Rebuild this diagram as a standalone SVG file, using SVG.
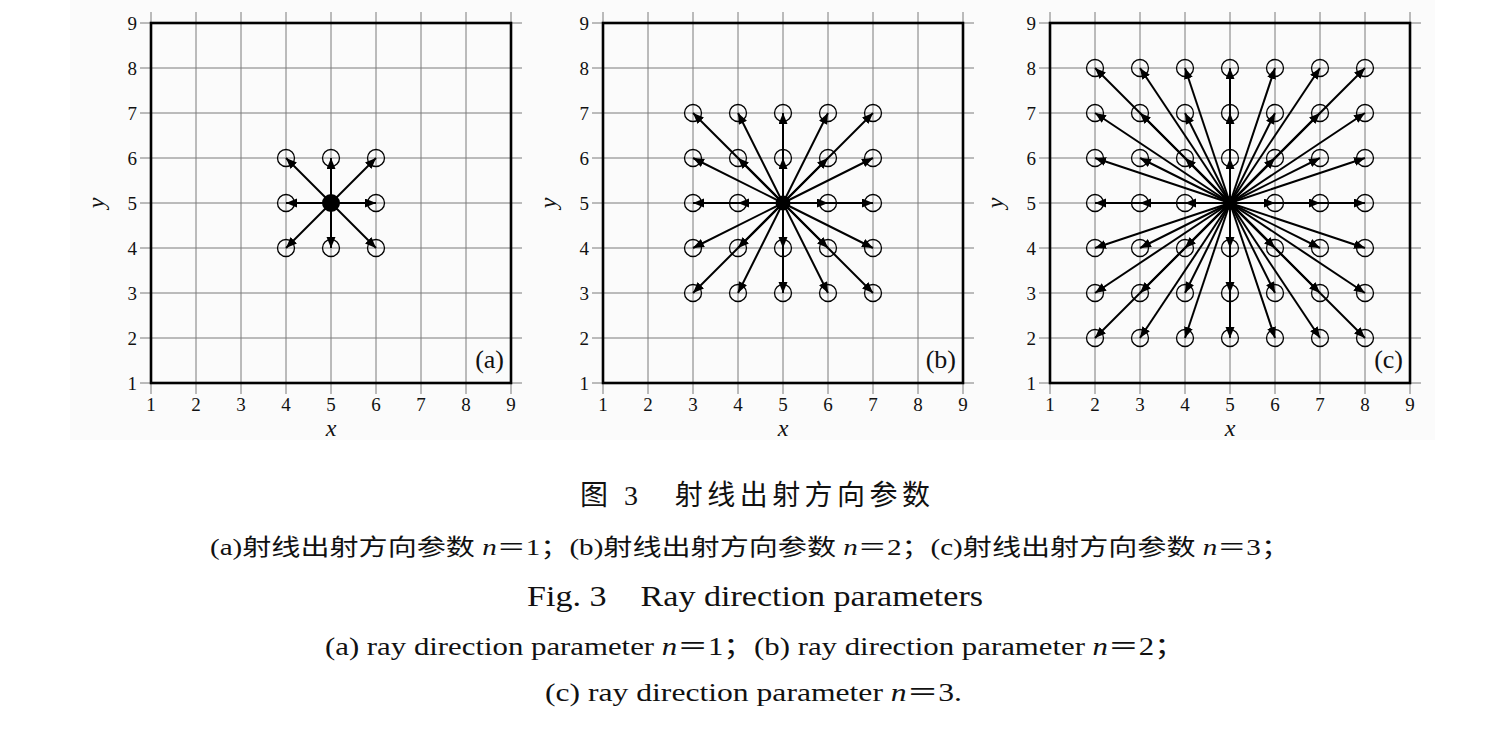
<svg xmlns="http://www.w3.org/2000/svg" xmlns:xlink="http://www.w3.org/1999/xlink" width="1508" height="734" viewBox="0 0 1508 734">
<style>
.pl{font-family:"Liberation Serif","Times New Roman",serif;font-size:26px;fill:#111}
.tk{font-family:"Liberation Serif","Times New Roman",serif;font-size:19px;fill:#111}
.tx{text-anchor:middle}
.ty{text-anchor:end}
.ax{font-family:"Liberation Serif","Times New Roman",serif;font-size:24px;font-style:italic;fill:#111;text-anchor:middle}
.ray{stroke:#000;stroke-width:2;marker-end:url(#ah)}
.pt{fill:none;stroke:#000;stroke-width:1.3}
.ctr{fill:#000}
.cap{font-family:"Liberation Serif","Noto Sans CJK SC",serif;fill:#111}
</style>
<defs>
<marker id="ah" markerUnits="userSpaceOnUse" markerWidth="13" markerHeight="10" refX="11" refY="4.5" orient="auto"><path d="M0,0 L11,4.5 L0,9 z" fill="#000"/></marker>
<g id="axes">
<path fill="none" stroke="#7a7a7a" stroke-width="1" d="M0,-11V371M45,-11V371M90,-11V371M135,-11V371M180,-11V371M225,-11V371M270,-11V371M315,-11V371M360,-11V371M-11,0H371M-11,45H371M-11,90H371M-11,135H371M-11,180H371M-11,225H371M-11,270H371M-11,315H371M-11,360H371"/>
<rect x="0" y="0" width="360" height="360" fill="none" stroke="#000" stroke-width="2.6"/>
</g>
</defs>
<rect x="70" y="0" width="1365" height="440" fill="#fbfbfb"/>

<g id="panel-a" transform="translate(151,23)">
<use xlink:href="#axes"/>
<g class="tk">
<text class="tx" x="0" y="388">1</text><text class="tx" x="45" y="388">2</text><text class="tx" x="90" y="388">3</text><text class="tx" x="135" y="388">4</text><text class="tx" x="180" y="388">5</text><text class="tx" x="225" y="388">6</text><text class="tx" x="270" y="388">7</text><text class="tx" x="315" y="388">8</text><text class="tx" x="360" y="388">9</text>
<text class="ty" x="-14" y="367">1</text><text class="ty" x="-14" y="322">2</text><text class="ty" x="-14" y="277">3</text><text class="ty" x="-14" y="232">4</text><text class="ty" x="-14" y="187">5</text><text class="ty" x="-14" y="142">6</text><text class="ty" x="-14" y="97">7</text><text class="ty" x="-14" y="52">8</text><text class="ty" x="-14" y="7">9</text>
</g>
<text class="ax" x="180" y="413">x</text>
<text class="ax" transform="translate(-47,180) rotate(-90)">y</text>
<text class="pl" x="353" y="345" text-anchor="end">(a)</text>
<g id="points-a">
<circle class="pt" cx="135" cy="135" r="8.5"/><circle class="pt" cx="180" cy="135" r="8.5"/><circle class="pt" cx="225" cy="135" r="8.5"/>
<circle class="pt" cx="135" cy="180" r="8.5"/><circle class="pt" cx="225" cy="180" r="8.5"/>
<circle class="pt" cx="135" cy="225" r="8.5"/><circle class="pt" cx="180" cy="225" r="8.5"/><circle class="pt" cx="225" cy="225" r="8.5"/>
</g>
<g id="rays-a">
<line class="ray" x1="180" y1="180" x2="135" y2="135"/><line class="ray" x1="180" y1="180" x2="180" y2="135"/><line class="ray" x1="180" y1="180" x2="225" y2="135"/>
<line class="ray" x1="180" y1="180" x2="135" y2="180"/><line class="ray" x1="180" y1="180" x2="225" y2="180"/>
<line class="ray" x1="180" y1="180" x2="135" y2="225"/><line class="ray" x1="180" y1="180" x2="180" y2="225"/><line class="ray" x1="180" y1="180" x2="225" y2="225"/>
</g>
<circle id="center-a" class="ctr" cx="180" cy="180" r="9"/>
</g>

<g id="panel-b" transform="translate(603,23)">
<use xlink:href="#axes"/>
<g class="tk">
<text class="tx" x="0" y="388">1</text><text class="tx" x="45" y="388">2</text><text class="tx" x="90" y="388">3</text><text class="tx" x="135" y="388">4</text><text class="tx" x="180" y="388">5</text><text class="tx" x="225" y="388">6</text><text class="tx" x="270" y="388">7</text><text class="tx" x="315" y="388">8</text><text class="tx" x="360" y="388">9</text>
<text class="ty" x="-14" y="367">1</text><text class="ty" x="-14" y="322">2</text><text class="ty" x="-14" y="277">3</text><text class="ty" x="-14" y="232">4</text><text class="ty" x="-14" y="187">5</text><text class="ty" x="-14" y="142">6</text><text class="ty" x="-14" y="97">7</text><text class="ty" x="-14" y="52">8</text><text class="ty" x="-14" y="7">9</text>
</g>
<text class="ax" x="180" y="413">x</text>
<text class="ax" transform="translate(-47,180) rotate(-90)">y</text>
<text class="pl" x="353" y="345" text-anchor="end">(b)</text>
<g id="points-b">
<circle class="pt" cx="90" cy="90" r="8.5"/><circle class="pt" cx="135" cy="90" r="8.5"/><circle class="pt" cx="180" cy="90" r="8.5"/><circle class="pt" cx="225" cy="90" r="8.5"/><circle class="pt" cx="270" cy="90" r="8.5"/>
<circle class="pt" cx="90" cy="135" r="8.5"/><circle class="pt" cx="135" cy="135" r="8.5"/><circle class="pt" cx="180" cy="135" r="8.5"/><circle class="pt" cx="225" cy="135" r="8.5"/><circle class="pt" cx="270" cy="135" r="8.5"/>
<circle class="pt" cx="90" cy="180" r="8.5"/><circle class="pt" cx="135" cy="180" r="8.5"/><circle class="pt" cx="225" cy="180" r="8.5"/><circle class="pt" cx="270" cy="180" r="8.5"/>
<circle class="pt" cx="90" cy="225" r="8.5"/><circle class="pt" cx="135" cy="225" r="8.5"/><circle class="pt" cx="180" cy="225" r="8.5"/><circle class="pt" cx="225" cy="225" r="8.5"/><circle class="pt" cx="270" cy="225" r="8.5"/>
<circle class="pt" cx="90" cy="270" r="8.5"/><circle class="pt" cx="135" cy="270" r="8.5"/><circle class="pt" cx="180" cy="270" r="8.5"/><circle class="pt" cx="225" cy="270" r="8.5"/><circle class="pt" cx="270" cy="270" r="8.5"/>
</g>
<g id="rays-b">
<line class="ray" x1="180" y1="180" x2="90" y2="90"/><line class="ray" x1="180" y1="180" x2="135" y2="90"/><line class="ray" x1="180" y1="180" x2="180" y2="90"/><line class="ray" x1="180" y1="180" x2="225" y2="90"/><line class="ray" x1="180" y1="180" x2="270" y2="90"/>
<line class="ray" x1="180" y1="180" x2="90" y2="135"/><line class="ray" x1="180" y1="180" x2="135" y2="135"/><line class="ray" x1="180" y1="180" x2="180" y2="135"/><line class="ray" x1="180" y1="180" x2="225" y2="135"/><line class="ray" x1="180" y1="180" x2="270" y2="135"/>
<line class="ray" x1="180" y1="180" x2="90" y2="180"/><line class="ray" x1="180" y1="180" x2="135" y2="180"/><line class="ray" x1="180" y1="180" x2="225" y2="180"/><line class="ray" x1="180" y1="180" x2="270" y2="180"/>
<line class="ray" x1="180" y1="180" x2="90" y2="225"/><line class="ray" x1="180" y1="180" x2="135" y2="225"/><line class="ray" x1="180" y1="180" x2="180" y2="225"/><line class="ray" x1="180" y1="180" x2="225" y2="225"/><line class="ray" x1="180" y1="180" x2="270" y2="225"/>
<line class="ray" x1="180" y1="180" x2="90" y2="270"/><line class="ray" x1="180" y1="180" x2="135" y2="270"/><line class="ray" x1="180" y1="180" x2="180" y2="270"/><line class="ray" x1="180" y1="180" x2="225" y2="270"/><line class="ray" x1="180" y1="180" x2="270" y2="270"/>
</g>
<circle id="center-b" class="ctr" cx="180" cy="180" r="7.5"/>
</g>

<g id="panel-c" transform="translate(1050,23)">
<use xlink:href="#axes"/>
<g class="tk">
<text class="tx" x="0" y="388">1</text><text class="tx" x="45" y="388">2</text><text class="tx" x="90" y="388">3</text><text class="tx" x="135" y="388">4</text><text class="tx" x="180" y="388">5</text><text class="tx" x="225" y="388">6</text><text class="tx" x="270" y="388">7</text><text class="tx" x="315" y="388">8</text><text class="tx" x="360" y="388">9</text>
<text class="ty" x="-14" y="367">1</text><text class="ty" x="-14" y="322">2</text><text class="ty" x="-14" y="277">3</text><text class="ty" x="-14" y="232">4</text><text class="ty" x="-14" y="187">5</text><text class="ty" x="-14" y="142">6</text><text class="ty" x="-14" y="97">7</text><text class="ty" x="-14" y="52">8</text><text class="ty" x="-14" y="7">9</text>
</g>
<text class="ax" x="180" y="413">x</text>
<text class="ax" transform="translate(-47,180) rotate(-90)">y</text>
<text class="pl" x="353" y="345" text-anchor="end">(c)</text>
<g id="points-c">
<circle class="pt" cx="45" cy="45" r="8.5"/><circle class="pt" cx="90" cy="45" r="8.5"/><circle class="pt" cx="135" cy="45" r="8.5"/><circle class="pt" cx="180" cy="45" r="8.5"/><circle class="pt" cx="225" cy="45" r="8.5"/><circle class="pt" cx="270" cy="45" r="8.5"/><circle class="pt" cx="315" cy="45" r="8.5"/>
<circle class="pt" cx="45" cy="90" r="8.5"/><circle class="pt" cx="90" cy="90" r="8.5"/><circle class="pt" cx="135" cy="90" r="8.5"/><circle class="pt" cx="180" cy="90" r="8.5"/><circle class="pt" cx="225" cy="90" r="8.5"/><circle class="pt" cx="270" cy="90" r="8.5"/><circle class="pt" cx="315" cy="90" r="8.5"/>
<circle class="pt" cx="45" cy="135" r="8.5"/><circle class="pt" cx="90" cy="135" r="8.5"/><circle class="pt" cx="135" cy="135" r="8.5"/><circle class="pt" cx="180" cy="135" r="8.5"/><circle class="pt" cx="225" cy="135" r="8.5"/><circle class="pt" cx="270" cy="135" r="8.5"/><circle class="pt" cx="315" cy="135" r="8.5"/>
<circle class="pt" cx="45" cy="180" r="8.5"/><circle class="pt" cx="90" cy="180" r="8.5"/><circle class="pt" cx="135" cy="180" r="8.5"/><circle class="pt" cx="225" cy="180" r="8.5"/><circle class="pt" cx="270" cy="180" r="8.5"/><circle class="pt" cx="315" cy="180" r="8.5"/>
<circle class="pt" cx="45" cy="225" r="8.5"/><circle class="pt" cx="90" cy="225" r="8.5"/><circle class="pt" cx="135" cy="225" r="8.5"/><circle class="pt" cx="180" cy="225" r="8.5"/><circle class="pt" cx="225" cy="225" r="8.5"/><circle class="pt" cx="270" cy="225" r="8.5"/><circle class="pt" cx="315" cy="225" r="8.5"/>
<circle class="pt" cx="45" cy="270" r="8.5"/><circle class="pt" cx="90" cy="270" r="8.5"/><circle class="pt" cx="135" cy="270" r="8.5"/><circle class="pt" cx="180" cy="270" r="8.5"/><circle class="pt" cx="225" cy="270" r="8.5"/><circle class="pt" cx="270" cy="270" r="8.5"/><circle class="pt" cx="315" cy="270" r="8.5"/>
<circle class="pt" cx="45" cy="315" r="8.5"/><circle class="pt" cx="90" cy="315" r="8.5"/><circle class="pt" cx="135" cy="315" r="8.5"/><circle class="pt" cx="180" cy="315" r="8.5"/><circle class="pt" cx="225" cy="315" r="8.5"/><circle class="pt" cx="270" cy="315" r="8.5"/><circle class="pt" cx="315" cy="315" r="8.5"/>
</g>
<g id="rays-c">
<line class="ray" x1="180" y1="180" x2="45" y2="45"/><line class="ray" x1="180" y1="180" x2="90" y2="45"/><line class="ray" x1="180" y1="180" x2="135" y2="45"/><line class="ray" x1="180" y1="180" x2="180" y2="45"/><line class="ray" x1="180" y1="180" x2="225" y2="45"/><line class="ray" x1="180" y1="180" x2="270" y2="45"/><line class="ray" x1="180" y1="180" x2="315" y2="45"/>
<line class="ray" x1="180" y1="180" x2="45" y2="90"/><line class="ray" x1="180" y1="180" x2="90" y2="90"/><line class="ray" x1="180" y1="180" x2="135" y2="90"/><line class="ray" x1="180" y1="180" x2="180" y2="90"/><line class="ray" x1="180" y1="180" x2="225" y2="90"/><line class="ray" x1="180" y1="180" x2="270" y2="90"/><line class="ray" x1="180" y1="180" x2="315" y2="90"/>
<line class="ray" x1="180" y1="180" x2="45" y2="135"/><line class="ray" x1="180" y1="180" x2="90" y2="135"/><line class="ray" x1="180" y1="180" x2="135" y2="135"/><line class="ray" x1="180" y1="180" x2="180" y2="135"/><line class="ray" x1="180" y1="180" x2="225" y2="135"/><line class="ray" x1="180" y1="180" x2="270" y2="135"/><line class="ray" x1="180" y1="180" x2="315" y2="135"/>
<line class="ray" x1="180" y1="180" x2="45" y2="180"/><line class="ray" x1="180" y1="180" x2="90" y2="180"/><line class="ray" x1="180" y1="180" x2="135" y2="180"/><line class="ray" x1="180" y1="180" x2="225" y2="180"/><line class="ray" x1="180" y1="180" x2="270" y2="180"/><line class="ray" x1="180" y1="180" x2="315" y2="180"/>
<line class="ray" x1="180" y1="180" x2="45" y2="225"/><line class="ray" x1="180" y1="180" x2="90" y2="225"/><line class="ray" x1="180" y1="180" x2="135" y2="225"/><line class="ray" x1="180" y1="180" x2="180" y2="225"/><line class="ray" x1="180" y1="180" x2="225" y2="225"/><line class="ray" x1="180" y1="180" x2="270" y2="225"/><line class="ray" x1="180" y1="180" x2="315" y2="225"/>
<line class="ray" x1="180" y1="180" x2="45" y2="270"/><line class="ray" x1="180" y1="180" x2="90" y2="270"/><line class="ray" x1="180" y1="180" x2="135" y2="270"/><line class="ray" x1="180" y1="180" x2="180" y2="270"/><line class="ray" x1="180" y1="180" x2="225" y2="270"/><line class="ray" x1="180" y1="180" x2="270" y2="270"/><line class="ray" x1="180" y1="180" x2="315" y2="270"/>
<line class="ray" x1="180" y1="180" x2="45" y2="315"/><line class="ray" x1="180" y1="180" x2="90" y2="315"/><line class="ray" x1="180" y1="180" x2="135" y2="315"/><line class="ray" x1="180" y1="180" x2="180" y2="315"/><line class="ray" x1="180" y1="180" x2="225" y2="315"/><line class="ray" x1="180" y1="180" x2="270" y2="315"/><line class="ray" x1="180" y1="180" x2="315" y2="315"/>
</g>
<circle id="center-c" class="ctr" cx="180" cy="180" r="7"/>
</g>

<g id="captions" class="cap">
<text x="580" y="505" font-size="28" textLength="350" lengthAdjust="spacing">图 3　射线出射方向参数</text>
<text x="210" y="555" font-size="23" textLength="1080" lengthAdjust="spacingAndGlyphs">(a)射线出射方向参数 <tspan font-style="italic">n</tspan>＝1；(b)射线出射方向参数 <tspan font-style="italic">n</tspan>＝2；(c)射线出射方向参数 <tspan font-style="italic">n</tspan>＝3；</text>
<text x="527" y="606" font-size="30" textLength="456" lengthAdjust="spacingAndGlyphs">Fig. 3　Ray direction parameters</text>
<text x="325" y="655" font-size="25" textLength="860" lengthAdjust="spacingAndGlyphs">(a) ray direction parameter <tspan font-style="italic">n</tspan>＝1；(b) ray direction parameter <tspan font-style="italic">n</tspan>＝2；</text>
<text x="545" y="701" font-size="25" textLength="417" lengthAdjust="spacingAndGlyphs">(c) ray direction parameter <tspan font-style="italic">n</tspan>＝3.</text>
</g>
</svg>
